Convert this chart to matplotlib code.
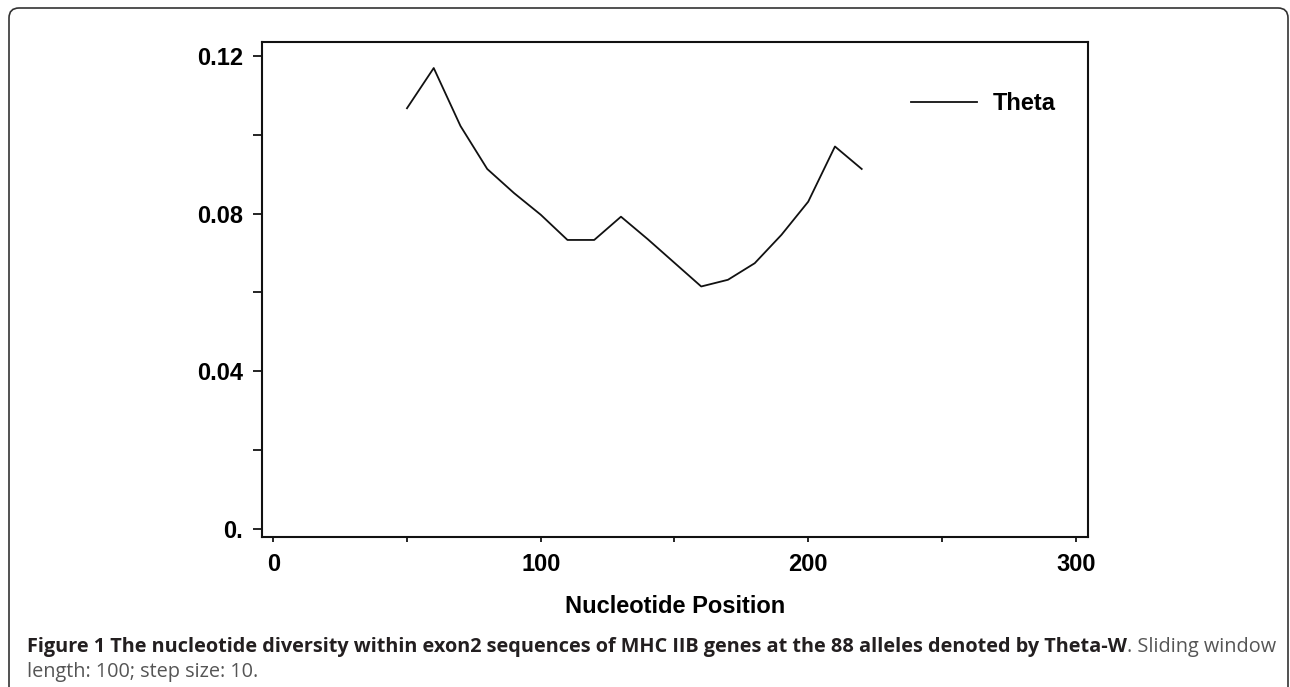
import matplotlib
matplotlib.use("Agg")
import matplotlib.pyplot as plt
from matplotlib.patches import FancyBboxPatch
from matplotlib.transforms import IdentityTransform

# sliding window results (window 100, step 10)
positions = [50, 60, 70, 80, 90, 100, 110, 120, 130, 140, 150, 160, 170, 180, 190, 200, 210, 220]
theta = [0.1067, 0.1169, 0.1022, 0.0913, 0.0852, 0.0797, 0.0733, 0.0733, 0.0792, 0.0735,
         0.0675, 0.0615, 0.0632, 0.0674, 0.0746, 0.0830, 0.0970, 0.0913]

x_ticks = [0, 100, 200, 300]
x_tick_labels = ["0", "100", "200", "300"]
x_minor = [50, 150, 250]
y_ticks = [0.0, 0.04, 0.08, 0.12]
y_tick_labels = ["0.", "0.04", "0.08", "0.12"]
y_minor = [0.02, 0.06, 0.10]

caption_bold = ("Figure 1 The nucleotide diversity within exon2 sequences of MHC IIB genes "
                "at the 88 alleles denoted by Theta-W")
caption_rest1 = ". Sliding window"
caption_line2 = "length: 100; step size: 10."

plot_font = ["Liberation Sans", "DejaVu Sans"]
cap_font = ["Open Sans", "DejaVu Sans"]

fig = plt.figure(figsize=(12.9, 6.87), dpi=100)
fig.set_facecolor("w")
ax = fig.add_axes([262 / 1290, 1 - 537 / 687, 826 / 1290, 495 / 687])

ax.plot(positions, theta, color="#111111", lw=1.3, label="Theta")

ax.set_xlim(-4.2, 304.6)
ax.set_ylim(-0.00203, 0.1235)

ax.set_xticks(x_ticks)
ax.set_xticklabels(x_tick_labels)
ax.set_xticks(x_minor, minor=True)
ax.set_yticks(y_ticks)
ax.set_yticklabels(y_tick_labels)
ax.set_yticks(y_minor, minor=True)

for lab in ax.get_xticklabels() + ax.get_yticklabels():
    lab.set_family(plot_font)
    lab.set_weight("bold")
    lab.set_fontsize(17)

ax.tick_params(axis="y", which="both", direction="out", length=6.5, width=1.2, pad=7)
ax.tick_params(axis="x", which="both", direction="out", length=3.5, width=1.2, pad=8)
for spine in ax.spines.values():
    spine.set_linewidth(1.5)
    spine.set_color("#111111")

ax.set_xlabel("Nucleotide Position", family=plot_font, weight="bold", fontsize=17, labelpad=14)

leg = ax.legend(loc="center left", bbox_to_anchor=((911 - 262) / 826, (537 - 104) / 495),
                frameon=False, borderpad=0, borderaxespad=0, handlelength=2.8,
                handletextpad=0.65, prop={"family": plot_font, "weight": "bold", "size": 17})

# caption under the chart
fig.text(27 / 1290, 1 - 647 / 687, caption_bold, family=cap_font, weight="bold",
         fontsize=14.3, color="#231f20", ha="left", va="center")
fig.text(1276 / 1290, 1 - 647 / 687, caption_rest1, family=cap_font,
         fontsize=14.3, color="#555555", ha="right", va="center")
fig.text(27 / 1290, 1 - 672 / 687, caption_line2, family=cap_font,
         fontsize=14.3, color="#555555", ha="left", va="center")

# rounded frame round the whole figure
frame = FancyBboxPatch((9, -30), 1279, 687 - 8 + 30, boxstyle="round,pad=0,rounding_size=10",
                       transform=IdentityTransform(), fill=False, edgecolor="#333333", lw=1.2)
fig.add_artist(frame)

fig.savefig("out.png", dpi=100)
plt.close()
